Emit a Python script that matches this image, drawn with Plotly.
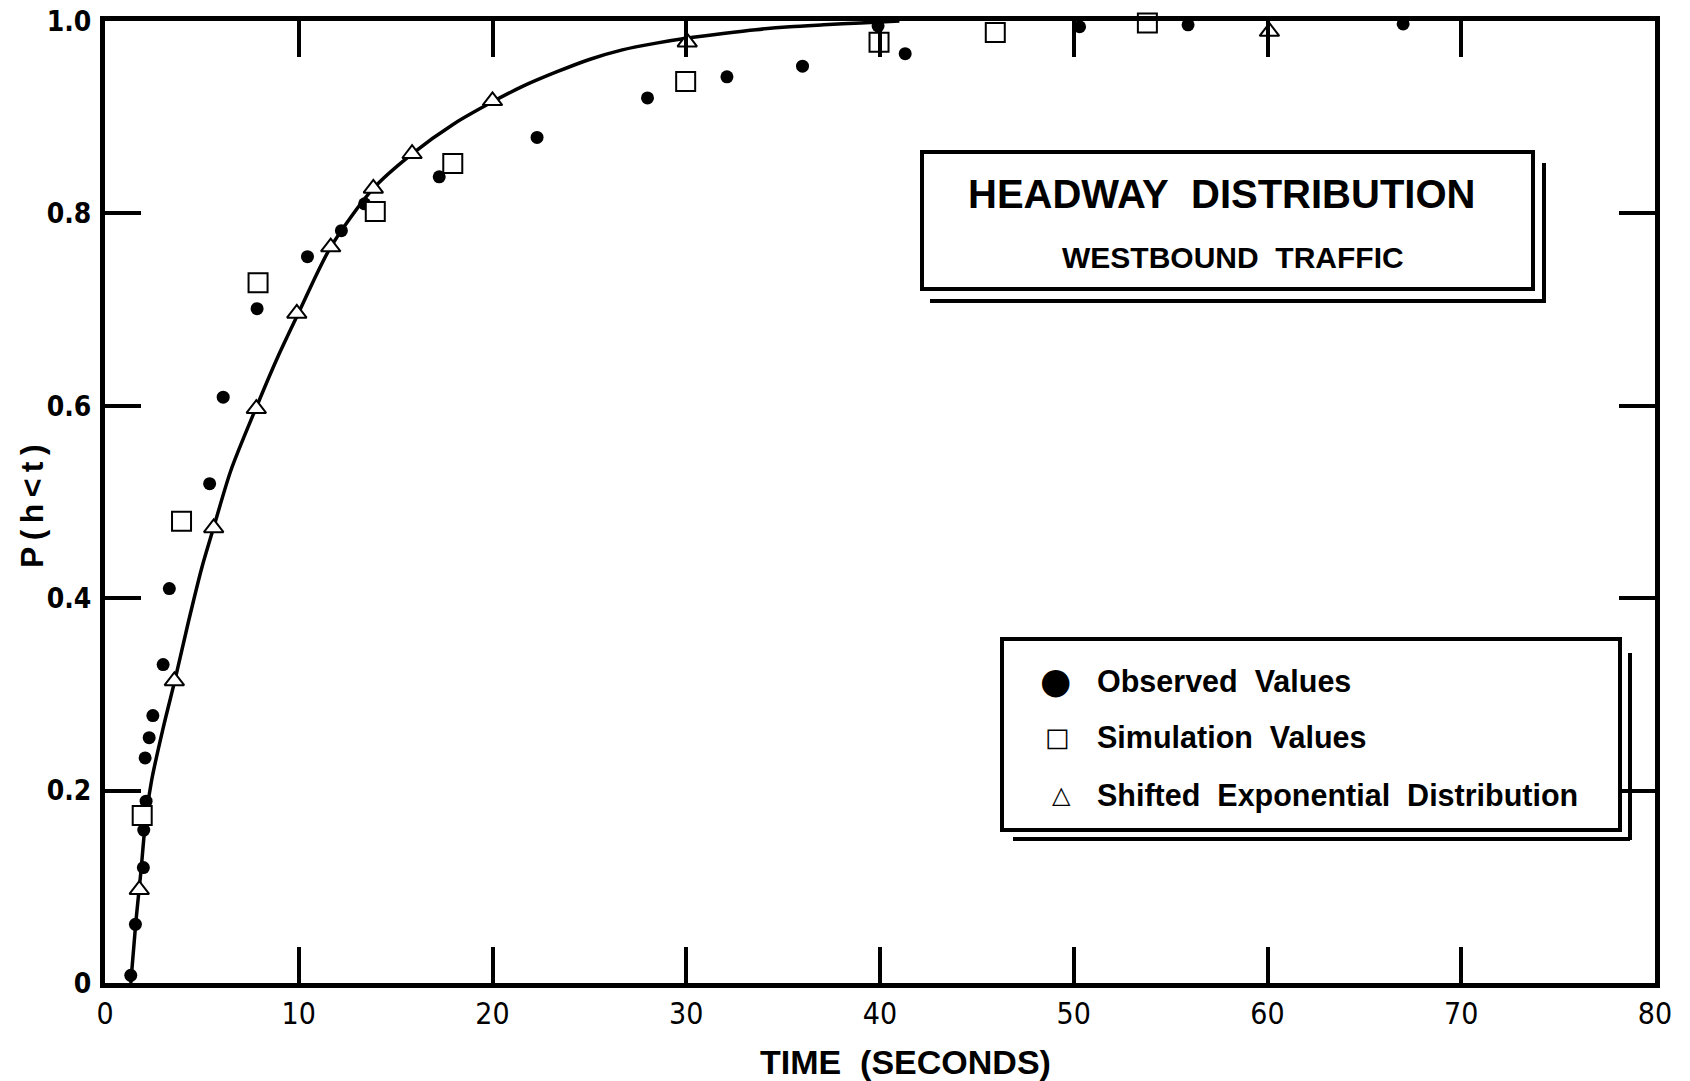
import plotly.graph_objects as go

# Cumulative headway distribution, westbound traffic
# Observed values (filled dots)
obs_t = [1.33, 1.57, 1.98, 2.0, 2.12, 2.07, 2.28, 2.47, 3.0, 3.32, 5.4, 6.1, 7.85,
         10.45, 12.2, 13.4, 17.25, 22.3, 28.0, 32.1, 36.0, 39.9, 41.3, 50.3, 55.9, 67.0]
obs_p = [0.008, 0.061, 0.120, 0.159, 0.189, 0.234, 0.255, 0.278, 0.331, 0.410, 0.519,
         0.609, 0.701, 0.755, 0.782, 0.810, 0.838, 0.879, 0.920, 0.942, 0.953, 0.995,
         0.966, 0.994, 0.996, 0.997]

# Simulation values (open squares)
sim_t = [1.92, 3.95, 7.9, 13.95, 17.95, 29.97, 39.95, 45.95, 53.8]
sim_p = [0.174, 0.480, 0.728, 0.802, 0.852, 0.937, 0.978, 0.988, 0.998]

# Shifted exponential distribution (open triangles)
exp_t = [1.77, 3.58, 5.61, 7.81, 9.9, 11.65, 13.85, 15.85, 20.0, 30.05, 60.1]
exp_p = [0.097, 0.314, 0.473, 0.597, 0.696, 0.765, 0.826, 0.862, 0.917, 0.978, 0.989]

# Fitted curve
curve_t = [1.33, 1.6, 1.85, 2.1, 2.4, 3.0, 3.6, 4.3, 5.0, 5.6, 6.5, 7.8, 8.9, 10.0,
           11.65, 13.85, 15.85, 18.0, 20.0, 21.55, 23.3, 25.0, 26.7, 28.45, 30.0,
           31.9, 33.6, 35.35, 37.1, 39.0, 41.0]
curve_p = [0.0, 0.065, 0.115, 0.170, 0.210, 0.265, 0.314, 0.375, 0.432, 0.473, 0.533,
           0.598, 0.650, 0.697, 0.765, 0.826, 0.862, 0.893, 0.916, 0.932, 0.947, 0.960,
           0.970, 0.977, 0.982, 0.987, 0.991, 0.994, 0.996, 0.998, 1.0]

x_ticks = [0, 10, 20, 30, 40, 50, 60, 70, 80]
x_labels = ["0", "10", "20", "30", "40", "50", "60", "70", "80"]
y_ticks = [0, 0.2, 0.4, 0.6, 0.8, 1.0]
y_labels = ["0", "0.2", "0.4", "0.6", "0.8", "1.0"]

key_labels = ["Observed&nbsp; Values", "Simulation&nbsp; Values",
              "Shifted&nbsp; Exponential&nbsp; Distribution"]
key_glyphs = ["\u25cf", "\u25a1", "\u25b3"]

W, H = 1690, 1081
ML, MR, MT, MB = 105, 35, 21, 98
PW, PH = W - ML - MR, H - MT - MB


def px(x):
    return (x - ML) / PW


def py(y):
    return (H - MB - y) / PH


SANS = "Liberation Sans, Arial, Helvetica, sans-serif"
COND = "DejaVu Sans Condensed, Liberation Sans Narrow, DejaVu Sans, sans-serif"
SYM = "DejaVu Sans, sans-serif"

fig = go.Figure()

fig.add_trace(go.Scatter(
    x=curve_t, y=curve_p, mode="lines",
    line=dict(color="black", width=3.5, shape="spline", smoothing=0.8),
    showlegend=False, hoverinfo="skip", cliponaxis=False,
))
fig.add_trace(go.Scatter(
    x=obs_t, y=obs_p, mode="markers", name="Observed Values",
    marker=dict(symbol="circle", size=13, color="black", line=dict(width=0)),
    cliponaxis=False, showlegend=False,
))
fig.add_trace(go.Scatter(
    x=sim_t, y=sim_p, mode="markers", name="Simulation Values",
    marker=dict(symbol="square", size=19, color="white", line=dict(color="black", width=2)),
    cliponaxis=False, showlegend=False,
))
fig.add_trace(go.Scatter(
    x=exp_t, y=exp_p, mode="markers", name="Shifted Exponential Distribution",
    marker=dict(symbol="triangle-up", size=17, color="white", line=dict(color="black", width=2)),
    cliponaxis=False, showlegend=False,
))

axis_common = dict(
    showline=True, linewidth=5, linecolor="black", mirror="ticks",
    ticks="inside", ticklen=36, tickwidth=4, tickcolor="black",
    showgrid=False, zeroline=False, fixedrange=True, automargin=False,
)

fig.update_xaxes(range=[0, 80], tickvals=x_ticks, ticktext=x_labels,
                 tickfont=dict(family=COND, size=30, color="black"),
                 ticklabelstandoff=0, **axis_common)
fig.update_yaxes(range=[0, 1], tickvals=y_ticks, ticktext=y_labels,
                 tickfont=dict(family=COND, size=28, color="black", weight="bold"),
                 ticklabelstandoff=3, **axis_common)

shapes = []
# title box with offset double rule
shapes.append(dict(type="rect", xref="paper", yref="paper",
                   x0=px(922), x1=px(1533), y0=py(289), y1=py(152),
                   line=dict(color="black", width=4)))
shapes.append(dict(type="line", xref="paper", yref="paper",
                   x0=px(1544), x1=px(1544), y0=py(163), y1=py(303),
                   line=dict(color="black", width=4)))
shapes.append(dict(type="line", xref="paper", yref="paper",
                   x0=px(930), x1=px(1544), y0=py(301), y1=py(301),
                   line=dict(color="black", width=4)))
# key box with offset double rule
shapes.append(dict(type="rect", xref="paper", yref="paper",
                   x0=px(1002), x1=px(1620), y0=py(830), y1=py(639),
                   line=dict(color="black", width=4)))
shapes.append(dict(type="line", xref="paper", yref="paper",
                   x0=px(1630), x1=px(1630), y0=py(653), y1=py(840),
                   line=dict(color="black", width=4)))
shapes.append(dict(type="line", xref="paper", yref="paper",
                   x0=px(1013), x1=px(1630), y0=py(839), y1=py(839),
                   line=dict(color="black", width=4)))

annotations = [
    dict(text="HEADWAY&nbsp; DISTRIBUTION", xref="paper", yref="paper",
         x=px(1221), y=py(194), xanchor="center", yanchor="middle", showarrow=False,
         font=dict(family=SANS, size=40, color="black", weight="bold")),
    dict(text="WESTBOUND&nbsp; TRAFFIC", xref="paper", yref="paper",
         x=px(1233), y=py(257), xanchor="center", yanchor="middle", showarrow=False,
         font=dict(family=SANS, size=30, color="black", weight="bold")),
    dict(text="TIME&nbsp; (SECONDS)", xref="paper", yref="paper",
         x=px(905), y=py(1062), xanchor="center", yanchor="middle", showarrow=False,
         font=dict(family=SANS, size=34, color="black", weight="bold")),
    dict(text="P\u2009(\u2009h\u2009&lt;\u2009t\u2009)", xref="paper", yref="paper",
         x=px(32), y=py(506), xanchor="center", yanchor="middle", showarrow=False,
         textangle=-90,
         font=dict(family=SANS, size=32, color="black", weight="bold")),
]

# key entries: symbol glyph + label
key_rows = [681, 737, 795]
key_sym_x = [1055, 1057, 1061]
key_sym_size = [36, 26, 24]
for lab, gl, ry, sx, ss in zip(key_labels, key_glyphs, key_rows, key_sym_x, key_sym_size):
    annotations.append(dict(text=gl, xref="paper", yref="paper", x=px(sx), y=py(ry),
                            xanchor="center", yanchor="middle", showarrow=False,
                            font=dict(family=SYM, size=ss, color="black")))
    annotations.append(dict(text=lab, xref="paper", yref="paper", x=px(1095), y=py(ry),
                            xanchor="left", yanchor="middle", showarrow=False,
                            font=dict(family=SANS, size=30.5, color="black", weight="bold")))

fig.update_layout(
    width=W, height=H, autosize=False,
    margin=dict(l=ML, r=MR, t=MT, b=MB, pad=0),
    paper_bgcolor="white", plot_bgcolor="white",
    shapes=shapes, annotations=annotations,
    showlegend=False,
    hovermode=False,
)

fig.write_html("out.html", config={"displayModeBar": False})
